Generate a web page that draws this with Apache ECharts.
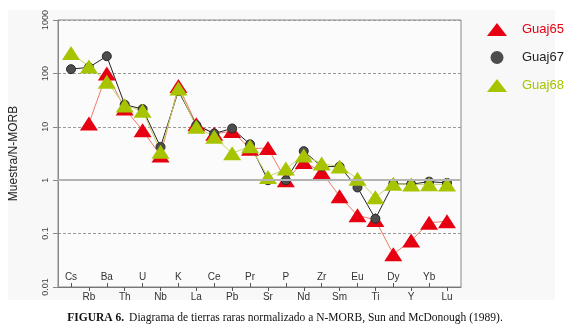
<!DOCTYPE html>
<html>
<head>
<meta charset="utf-8">
<script src="https://cdn.jsdelivr.net/npm/echarts@6/dist/echarts.min.js"></script>
<style>
  html, body { margin: 0; padding: 0; background: #fff; }
  #chart { width: 570px; height: 325px; }
</style>
</head>
<body>
<div id="chart"></div>
<script>
// elementos (orden del diagrama)
var elements = ['Cs', 'Rb', 'Ba', 'Th', 'U', 'Nb', 'K', 'La', 'Ce', 'Pb', 'Pr',
                'Sr', 'P', 'Nd', 'Zr', 'Sm', 'Eu', 'Ti', 'Dy', 'Y', 'Yb', 'Lu'];

// muestra / N-MORB
var guaj65 = [null, 11.5, 100, 22, 8.6, 2.9, 58, 11.2, 7.4, 8.3, 3.9,
              4.0, 1.0, 2.2, 1.43, 0.5, 0.22, 0.18, 0.041, 0.074, 0.16, 0.17];
var guaj67 = [120, 130, 210, 26, 21.5, 4.2, 47, 10.7, 7.5, 9.3, 4.7,
              1.0, 1.0, 3.5, 1.8, 1.8, 0.73, 0.19, 0.86, 0.84, 0.94, 0.89];
var guaj68 = [240, 135, 70, 25, 20, 3.4, 52, 10, 6.5, 3.2, 4.3,
              1.15, 1.65, 2.9, 2.05, 1.8, 1.07, 0.48, 0.86, 0.83, 0.84, 0.83];

var yTicks = ['0.01', '0.1', '1', '10', '100', '1000'];

var chart = echarts.init(document.getElementById('chart'));

var font = 'Liberation Sans, Arial, sans-serif';

chart.setOption({
    backgroundColor: '#fff',
    animation: false,
    graphic: [{
        type: 'rect',
        z: -10,
        shape: { x: 8, y: 10, width: 547, height: 290 },
        style: { fill: '#f8f8f8' }
    }],
    title: {
        left: 'center',
        top: 304,
        text: '{b|FIGURA 6.} {n|Diagrama de tierras raras normalizado a N-MORB, Sun and McDonough (1989).}',
        textStyle: {
            fontWeight: 'normal',
            rich: {
                b: { fontFamily: 'Liberation Serif', fontWeight: 'bold', fontSize: 11.5, color: '#111' },
                n: { fontFamily: 'Liberation Serif', fontWeight: 'normal', fontSize: 11.5, color: '#111' }
            }
        }
    },
    legend: {
        orient: 'vertical',
        left: 482,
        top: 18,
        itemWidth: 20,
        itemHeight: 13,
        itemGap: 15,
        textStyle: { fontFamily: font, fontSize: 13, padding: [0, 0, 0, 10] },
        data: [
            { name: 'Guaj65', icon: 'triangle', textStyle: { color: '#e60012' } },
            { name: 'Guaj67', icon: 'circle', itemStyle: { borderWidth: 0 }, textStyle: { color: '#222' } },
            { name: 'Guaj68', icon: 'triangle', textStyle: { color: '#a8c400' } }
        ]
    },
    grid: [
        { left: 57, right: 109, top: 20, bottom: 38, show: true, borderColor: '#888', borderWidth: 1, backgroundColor: '#fbfbfb' },
        { left: 71, right: 123, top: 20, bottom: 38 }
    ],
    xAxis: [
        {
            gridIndex: 0, type: 'value', min: 0, max: 1,
            axisLine: { show: true, lineStyle: { color: '#777' } },
            axisTick: { show: false }, axisLabel: { show: false }, splitLine: { show: false }
        },
        {
            gridIndex: 1, type: 'category', position: 'bottom', boundaryGap: false, data: elements,
            axisLine: { show: false },
            axisTick: { show: true, inside: true, length: 4, lineStyle: { color: '#555' },
                        interval: function (i) { return i % 2 === 0; } },
            axisLabel: { inside: true, margin: 5, fontFamily: font, fontSize: 10, color: '#333',
                         interval: function (i) { return i % 2 === 0; } },
            splitLine: { show: false }
        },
        {
            gridIndex: 1, type: 'category', position: 'bottom', offset: 0, boundaryGap: false, data: elements,
            axisLine: { show: false },
            axisTick: { show: true, length: 4, lineStyle: { color: '#555' },
                        interval: function (i) { return i % 2 === 1; } },
            axisLabel: { margin: 5, fontFamily: font, fontSize: 10, color: '#333',
                         interval: function (i) { return i % 2 === 1; } },
            splitLine: { show: false }
        }
    ],
    yAxis: [
        {
            gridIndex: 0, type: 'log', logBase: 10, min: 0.01, max: 1000,
            name: 'Muestra/N-MORB', nameLocation: 'middle', nameRotate: 90, nameGap: 38,
            nameTextStyle: { fontFamily: font, fontSize: 12, color: '#222' },
            axisLine: { show: true, lineStyle: { color: '#888' } },
            axisTick: { show: true, length: 5, lineStyle: { color: '#888' } },
            axisLabel: {
                rotate: 90, fontFamily: font, fontSize: 9, color: '#444', margin: 8,
                formatter: function (v) { return yTicks[Math.round(Math.log10(v)) + 2]; }
            },
            splitLine: { show: true, lineStyle: { color: '#999', type: [3, 2] } }
        },
        {
            gridIndex: 1, type: 'log', logBase: 10, min: 0.01, max: 1000, show: false
        }
    ],
    series: [
        {
            // línea de referencia en 1
            type: 'line', xAxisIndex: 0, yAxisIndex: 0, data: [], silent: true,
            markLine: {
                silent: true, symbol: 'none', label: { show: false },
                lineStyle: { color: '#b4b4b4', width: 2, type: 'solid' },
                data: [{ yAxis: 1 }]
            }
        },
        {
            name: 'Guaj65', type: 'line', xAxisIndex: 1, yAxisIndex: 1, data: guaj65,
            symbol: 'triangle', symbolSize: [18, 14], showAllSymbol: true,
            itemStyle: { color: '#e60012' },
            lineStyle: { color: '#f07a68', width: 1 }
        },
        {
            name: 'Guaj67', type: 'line', xAxisIndex: 1, yAxisIndex: 1, data: guaj67,
            symbol: 'circle', symbolSize: 9, showAllSymbol: true,
            itemStyle: { color: '#4d4d4d', borderColor: '#2a2a2a', borderWidth: 1 },
            lineStyle: { color: '#222', width: 1 }
        },
        {
            name: 'Guaj68', type: 'line', xAxisIndex: 1, yAxisIndex: 1, data: guaj68,
            symbol: 'triangle', symbolSize: [18, 14], showAllSymbol: true,
            itemStyle: { color: '#a8c400' },
            lineStyle: { color: '#c6d66a', width: 1 }
        }
    ]
});
</script>
</body>
</html>
